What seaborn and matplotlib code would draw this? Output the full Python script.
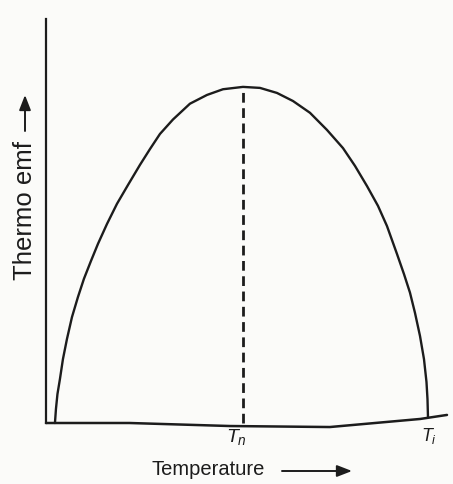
import matplotlib
matplotlib.use("Agg")
import matplotlib.pyplot as plt
import seaborn as sns
import pandas as pd

# Thermo emf versus temperature (arbitrary units: T_i = 100, peak emf = 100)
temperature = [0.0, 0.27, 0.67, 1.34, 2.14, 3.22, 4.56, 6.17, 7.77, 9.65, 11.53,
               13.94, 16.62, 19.57, 22.79, 25.47, 28.15, 31.64, 36.19, 40.75, 45.04,
               50.4, 54.96, 59.52, 63.81, 68.36, 72.92, 77.21, 80.43, 83.65, 86.60,
               89.01, 91.69, 93.57, 95.17, 96.51, 97.86, 98.93, 99.60, 99.87, 100.0]
thermo_emf = [0.0, 4.2, 8.6, 13.1, 19.0, 25.0, 31.5, 37.5, 42.9, 48.2, 53.3,
              59.2, 65.2, 70.8, 76.8, 81.5, 86.0, 90.3, 95.0, 97.6, 99.3,
              100.0, 99.7, 98.2, 95.8, 92.3, 87.2, 81.8, 76.5, 70.5, 64.6,
              58.6, 50.3, 44.3, 38.8, 32.8, 25.9, 19.0, 12.2, 7.1, 1.8]

# Hand-drawn temperature axis (slightly uneven baseline)
axis_temperature = [-2.4, 20.0, 46.9, 73.7, 97.9, 105.1]
axis_level = [0.0, 0.0, -0.9, -1.2, 1.2, 2.4]

T_neutral = 50.4     # neutral temperature T_n
T_inversion = 100.0  # temperature of inversion T_i
emf_peak = 100.0

curve = pd.DataFrame({"Temperature": temperature, "Thermo emf": thermo_emf})
baseline = pd.DataFrame({"Temperature": axis_temperature, "level": axis_level})

sns.set_style("white")
plt.rcParams["font.family"] = ["Liberation Sans", "DejaVu Sans"]
plt.rcParams["mathtext.fontset"] = "custom"
plt.rcParams["mathtext.it"] = "Liberation Sans:italic"
plt.rcParams["mathtext.rm"] = "Liberation Sans"

W, H = 453, 485
fig = plt.figure(figsize=(W / 100, H / 100), dpi=100, facecolor="#fbfbf9")
ax = fig.add_axes([46 / W, (H - 424) / H, (447 - 46) / W, (424 - 20) / H])
ax.set_facecolor("none")

ink = "#1c1c1c"
sns.lineplot(data=curve, x="Temperature", y="Thermo emf", sort=False,
             color=ink, linewidth=1.7, ax=ax, clip_on=False,
             solid_joinstyle="round", solid_capstyle="round")
sns.lineplot(data=baseline, x="Temperature", y="level", sort=False,
             color=ink, linewidth=1.8, ax=ax, clip_on=False)
ax.plot([T_neutral, T_neutral], [0, emf_peak], color=ink, linewidth=2.0,
        linestyle=(0, (3.5, 2.0)), clip_on=False)

ax.set_xlim(-2.4, 105.1)
ax.set_ylim(0, 120.2)
ax.set_xticks([])
ax.set_yticks([])
ax.set_xlabel("")
ax.set_ylabel("")
for side in ("top", "right", "bottom"):
    ax.spines[side].set_visible(False)
ax.spines["left"].set_color(ink)
ax.spines["left"].set_linewidth(1.6)

# Tick-style labels for T_n and T_i
ax.text(T_neutral - 1.8, -1.0, r"$T_n$", ha="center", va="top",
        fontsize=14, color=ink)
ax.text(T_inversion + 0.3, -0.5, r"$T_i$", ha="center", va="top",
        fontsize=13, color=ink)


def fig_xy(px, py):
    return px / W, 1 - py / H


# Axis titles with arrows
fig.text(*fig_xy(208, 470), "Temperature", ha="center", va="center",
         fontsize=14.5, color=ink)
ax.annotate("", xy=fig_xy(352, 472), xytext=fig_xy(282, 472),
            xycoords="figure fraction", textcoords="figure fraction",
            arrowprops=dict(arrowstyle="-|>,head_length=0.9,head_width=0.35",
                            color=ink, linewidth=1.4, shrinkA=0, shrinkB=0),
            annotation_clip=False)

fig.text(*fig_xy(25, 211), "Thermo emf", ha="center", va="center",
         rotation=90, fontsize=18.5, color=ink)
ax.annotate("", xy=fig_xy(25, 96), xytext=fig_xy(25, 132),
            xycoords="figure fraction", textcoords="figure fraction",
            arrowprops=dict(arrowstyle="-|>,head_length=0.9,head_width=0.35",
                            color=ink, linewidth=1.4, shrinkA=0, shrinkB=0),
            annotation_clip=False)

fig.savefig("out.png", dpi=100, facecolor=fig.get_facecolor())
